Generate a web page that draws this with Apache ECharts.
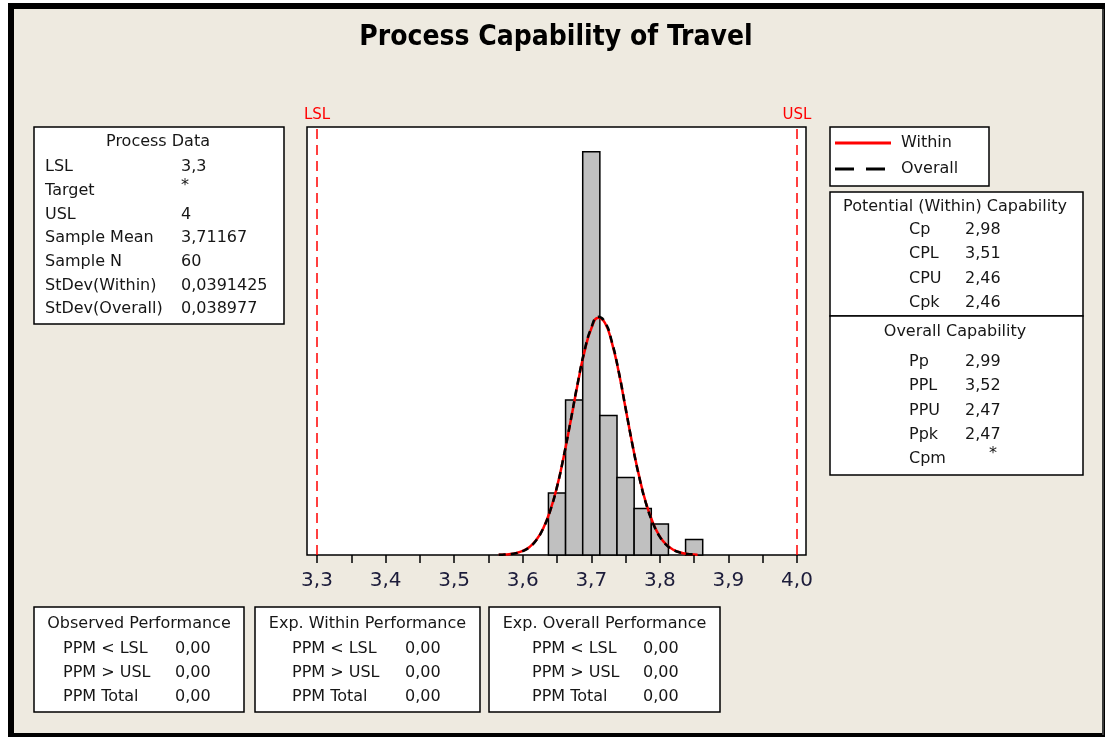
<!DOCTYPE html>
<html>
<head>
<meta charset="utf-8">
<script src="https://cdn.jsdelivr.net/npm/echarts@6/dist/echarts.min.js"></script>
<style>
  html, body { margin: 0; padding: 0; background: #fff; }
  #chart { width: 1107px; height: 740px; }
</style>
</head>
<body>
<div id="chart"></div>
<script>
// histogram of Travel (bin centre, count)
const binCenters = [3.65, 3.675, 3.70, 3.725, 3.75, 3.775, 3.80, 3.825, 3.85]
const binCounts = [4, 10, 26, 9, 5, 3, 2, 0, 1]
const binWidth = 0.025

// fitted curves
const curveX = [3.565, 3.57, 3.58, 3.59, 3.60, 3.61, 3.62, 3.63, 3.64, 3.65, 3.66, 3.67, 3.68, 3.69, 3.70, 3.71,
  3.72, 3.73, 3.74, 3.75, 3.76, 3.77, 3.78, 3.79, 3.80, 3.81, 3.82, 3.83, 3.84, 3.85, 3.855]
const withinY = [0.01, 0.02, 0.05, 0.12, 0.26, 0.52, 0.98, 1.73, 2.85, 4.39, 6.39, 8.66, 11.0, 13.1, 14.6, 15.3,
  14.96, 13.7, 11.8, 9.47, 7.13, 5.04, 3.32, 2.07, 1.19, 0.65, 0.33, 0.16, 0.07, 0.03, 0.02]
const overallY = [0.01, 0.02, 0.05, 0.11, 0.25, 0.51, 0.97, 1.72, 2.85, 4.39, 6.40, 8.68, 11.05, 13.15, 14.65, 15.36,
  15.02, 13.75, 11.83, 9.48, 7.11, 5.01, 3.29, 2.04, 1.17, 0.63, 0.32, 0.15, 0.07, 0.03, 0.01]

const specLimits = [{ name: 'LSL', value: 3.3 }, { name: 'USL', value: 4.0 }]

// text tables
const processLabels = ['LSL', 'Target', 'USL', 'Sample Mean', 'Sample N', 'StDev(Within)', 'StDev(Overall)']
const processValues = ['3,3', '*', '4', '3,71167', '60', '0,0391425', '0,038977']
const withinLabels = ['Cp', 'CPL', 'CPU', 'Cpk']
const withinValues = ['2,98', '3,51', '2,46', '2,46']
const overallLabels = ['Pp', 'PPL', 'PPU', 'Ppk', 'Cpm']
const overallValues = ['2,99', '3,52', '2,47', '2,47', '*']
const perfLabels = ['PPM < LSL', 'PPM > USL', 'PPM Total']
const observedPerf = ['0,00', '0,00', '0,00']
const expWithinPerf = ['0,00', '0,00', '0,00']
const expOverallPerf = ['0,00', '0,00', '0,00']

const BG = '#eeeae0'
const INK = '#161616'
const FONT = 'DejaVu Sans'

function box (x, y, w, h) {
  return { type: 'rect', shape: { x: x, y: y, width: w, height: h }, style: { fill: '#fff', stroke: '#000', lineWidth: 1.5 } }
}
function txt (t, x, y, align, extra) {
  return {
    type: 'text', x: x, y: y,
    style: Object.assign({ text: t, fill: INK, fontSize: 16, fontFamily: FONT, textAlign: align || 'left', textVerticalAlign: 'middle' }, extra || {})
  }
}
function star (x, y) {
  return txt('*', x, y - 5, 'left')
}

const graphics = [
  // window frame
  { type: 'rect', shape: { x: 8, y: 3, width: 1097, height: 734 }, style: { fill: '#000' } },
  { type: 'rect', shape: { x: 14, y: 9, width: 1088, height: 724 }, style: { fill: BG } },
  { type: 'rect', shape: { x: 1102, y: 9, width: 2, height: 726 }, style: { fill: '#3a3a3a' } },
  // plot frame
  { type: 'rect', shape: { x: 307, y: 127, width: 499, height: 428 }, style: { fill: '#fff', stroke: '#000', lineWidth: 1.5 } },
  { type: 'text', x: 556, y: 38, style: { text: 'Process Capability of Travel', fill: '#000', fontSize: 28, fontWeight: 'bold', fontFamily: '"Liberation Sans Narrow", "DejaVu Sans Condensed", sans-serif', textAlign: 'center', textVerticalAlign: 'middle' } }
]

// Process Data
graphics.push(box(34, 127, 250, 197))
graphics.push(txt('Process Data', 158, 142, 'center'))
processLabels.forEach((l, i) => {
  const y = 167 + i * 23.7
  graphics.push(txt(l, 45, y))
  graphics.push(processValues[i] === '*' ? star(181, y) : txt(processValues[i], 181, y))
})

// legend
graphics.push(box(830, 127, 159, 59))
graphics.push({ type: 'line', shape: { x1: 835, y1: 143, x2: 891, y2: 143 }, style: { stroke: '#ff0000', lineWidth: 3 } })
graphics.push({ type: 'line', shape: { x1: 835, y1: 169, x2: 891, y2: 169 }, style: { stroke: '#000', lineWidth: 3, lineDash: [19, 12] } })
graphics.push(txt('Within', 901, 143))
graphics.push(txt('Overall', 901, 169))

// capability boxes
graphics.push(box(830, 192, 253, 124))
graphics.push(box(830, 316, 253, 159))
graphics.push(txt('Potential (Within) Capability', 955, 207, 'center'))
withinLabels.forEach((l, i) => {
  const y = 230 + i * 24.3
  graphics.push(txt(l, 909, y))
  graphics.push(txt(withinValues[i], 965, y))
})
graphics.push(txt('Overall Capability', 955, 332, 'center'))
overallLabels.forEach((l, i) => {
  const y = 362 + i * 24.2
  graphics.push(txt(l, 909, y))
  graphics.push(overallValues[i] === '*' ? star(989, y) : txt(overallValues[i], 965, y))
})

// performance boxes
const perfBoxes = [
  { title: 'Observed Performance', vals: observedPerf, x0: 34, x1: 244, lx: 63, vx: 175 },
  { title: 'Exp. Within Performance', vals: expWithinPerf, x0: 255, x1: 480, lx: 292, vx: 405 },
  { title: 'Exp. Overall Performance', vals: expOverallPerf, x0: 489, x1: 720, lx: 532, vx: 643 }
]
perfBoxes.forEach(b => {
  graphics.push(box(b.x0, 607, b.x1 - b.x0, 105))
  graphics.push(txt(b.title, (b.x0 + b.x1) / 2, 624, 'center'))
  perfLabels.forEach((l, i) => {
    const y = 649 + i * 24
    graphics.push(txt(l, b.lx, y))
    graphics.push(txt(b.vals[i], b.vx, y))
  })
})

const chart = echarts.init(document.getElementById('chart'), null, { renderer: 'canvas' })

const option = {
  backgroundColor: '#fff',
  animation: false,
  graphic: { elements: graphics },
  grid: { left: 317, right: 310, top: 127, bottom: 185 },
  xAxis: {
    type: 'value',
    min: 3.3,
    max: 4.0,
    interval: 0.05,
    z: 5,
    axisLine: { show: false },
    splitLine: { show: false },
    axisTick: { show: true, length: 8, lineStyle: { color: '#000', width: 1.5 } },
    axisLabel: {
      margin: 16,
      fontSize: 20,
      fontFamily: FONT,
      color: '#1c1c3a',
      formatter: v => Math.round(v * 100) % 10 === 0 ? v.toFixed(1).replace('.', ',') : ''
    }
  },
  yAxis: { type: 'value', min: 0, max: 27.6, show: false },
  series: [
    {
      type: 'custom',
      data: binCenters.map((c, i) => [c, binCounts[i]]),
      renderItem (params, api) {
        const c = api.value(0)
        const n = api.value(1)
        if (!n) return null
        const p0 = api.coord([c - binWidth / 2, n])
        const p1 = api.coord([c + binWidth / 2, 0])
        return {
          type: 'rect',
          shape: { x: p0[0], y: p0[1], width: p1[0] - p0[0], height: p1[1] - p0[1] },
          style: { fill: '#c0c0c0', stroke: '#000', lineWidth: 1.5 }
        }
      }
    },
    {
      name: 'Within',
      type: 'line',
      smooth: true,
      symbol: 'none',
      data: curveX.map((x, i) => [x, withinY[i]]),
      lineStyle: { color: '#ff0000', width: 2.5 },
      markLine: {
        silent: true,
        symbol: 'none',
        lineStyle: { color: '#ff0000', type: [10, 6], width: 1.5 },
        label: { position: 'end', formatter: '{b}', color: '#ff0000', fontSize: 15, fontFamily: FONT, distance: 4 },
        data: specLimits.map(s => ({ name: s.name, xAxis: s.value }))
      }
    },
    {
      name: 'Overall',
      type: 'line',
      smooth: true,
      symbol: 'none',
      data: curveX.map((x, i) => [x, overallY[i]]),
      lineStyle: { color: '#000', width: 2.5, type: [7, 5] }
    }
  ]
}
chart.setOption(option)
</script>
</body>
</html>
